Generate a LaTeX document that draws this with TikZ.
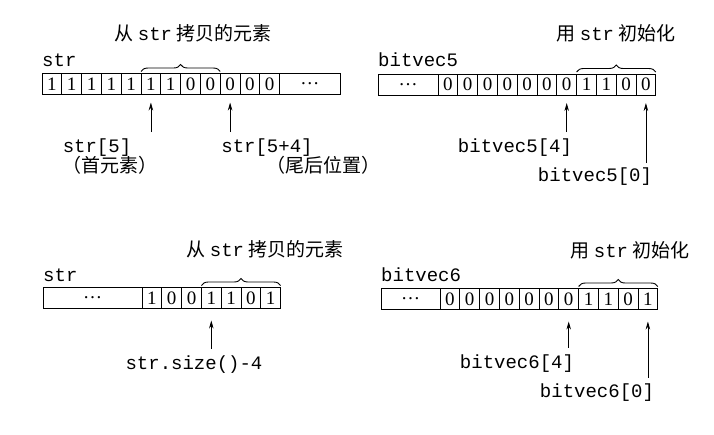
\documentclass[tikz,border=0pt]{standalone}
\usepackage{fontspec}
\setmainfont{Liberation Serif}
\setmonofont{Liberation Mono}
\newfontfamily\cjk{Noto Sans CJK SC}
\usetikzlibrary{positioning,calc,decorations.pathreplacing,arrows.meta}

\begin{document}
\begin{tikzpicture}[x=1pt, y=1pt, font=\fontsize{19}{22}\selectfont]
% Define styles for cells, labels and pointers
\tikzset{
  cell/.style={rectangle, draw, line width=0.9pt, minimum width=19.8pt, minimum height=21pt, inner sep=0pt, outer sep=0pt},
  dotsbox/.style={cell, minimum width=#1},
  code/.style={font=\fontsize{19}{22}\selectfont\ttfamily, inner sep=0pt, anchor=base},
  title/.style={font=\fontsize{19}{22}\selectfont\cjk, inner sep=0pt, anchor=base},
  span/.style={decorate, decoration={brace, amplitude=7pt, raise=2pt}, line width=0.9pt},
  ptr/.style={-{Stealth[length=8pt, width=4.5pt]}, line width=0.8pt, shorten >=8pt},
}
\useasboundingbox (0,0) rectangle (714,-434);

% Top left: str
\node[title] (titleA) at (193,-40) {从 \texttt{str} 拷贝的元素};
\node[code, anchor=base west] (nameA) at (42,-66) {str};
\foreach \v [count=\i from 0] in {1,1,1,1,1,1,1,0,0,0,0,0}
  \node[cell, anchor=west] (s\i) at (42+\i*19.8,-84) {\v};
\node[dotsbox=60.4pt, right=0pt of s11] (sdots) {\ldots};
\draw[span] (s5.north west) -- (s8.north east);

\coordinate[below=37.5pt of s5] (pA1);
\coordinate[below=37.5pt of s9] (pA2);
\draw[ptr] (pA1) -- (s5.south);
\draw[ptr] (pA2) -- (s9.south);
\node[code] (lA1) at (97,-152) {str[5]};
\node[title] (lA1b) at (110,-172) {（首元素）};
\node[code] (lA2) at (267,-152) {str[5+4]};
\node[title] (lA2b) at (323,-172) {（尾后位置）};

% Top right: bitvec5
\node[title] (titleB) at (616,-40) {用 \texttt{str} 初始化};
\node[code, anchor=base west] (nameB) at (378,-66) {bitvec5};
\node[dotsbox=60pt, anchor=west] (bdots) at (378,-84.5) {\ldots};
\foreach \v [count=\i from 0] in {0,0,0,0,0,0,0,1,1,0,0}
  \node[cell, anchor=west] (b\i) at ($(bdots.east)+(\i*19.8,0)$) {\v};
\draw[span] (b7.north west) -- (b10.north east);

\coordinate[below=37pt of b6] (pB1);
\coordinate[below=68pt of b10] (pB2);
\draw[ptr] (pB1) -- (b6.south);
\draw[ptr] (pB2) -- (b10.south);
\node[code] (lB1) at (515,-152) {bitvec5[4]};
\node[code] (lB2) at (595,-181) {bitvec5[0]};

% Bottom left: str
\node[title] (titleC) at (265,-256) {从 \texttt{str} 拷贝的元素};
\node[code, anchor=base west] (nameC) at (43,-281) {str};
\node[dotsbox=99pt, anchor=west] (cdots) at (43,-298) {\ldots};
\foreach \v [count=\i from 0] in {1,0,0,1,1,0,1}
  \node[cell, anchor=west] (c\i) at ($(cdots.east)+(\i*19.8,0)$) {\v};
\draw[span] (c3.north west) -- (c6.north east);

\coordinate[below=40pt of c3] (pC1);
\draw[ptr, shorten >=12pt] (pC1) -- (c3.south);
\node[code] (lC1) at (194,-369) {str.size()-4};

% Bottom right: bitvec6
\node[title] (titleD) at (630,-257) {用 \texttt{str} 初始化};
\node[code, anchor=base west] (nameD) at (381,-281) {bitvec6};
\node[dotsbox=59pt, anchor=west] (ddots) at (381,-299) {\ldots};
\foreach \v [count=\i from 0] in {0,0,0,0,0,0,0,1,1,0,1}
  \node[cell, anchor=west] (d\i) at ($(ddots.east)+(\i*19.8,0)$) {\v};
\draw[span] (d7.north west) -- (d10.north east);

\coordinate[below=38pt of d6] (pD1);
\coordinate[below=68pt of d10] (pD2);
\draw[ptr, shorten >=12pt] (pD1) -- (d6.south);
\draw[ptr, shorten >=12pt] (pD2) -- (d10.south);
\node[code] (lD1) at (517,-368) {bitvec6[4]};
\node[code] (lD2) at (597,-397) {bitvec6[0]};

\end{tikzpicture}
\end{document}
